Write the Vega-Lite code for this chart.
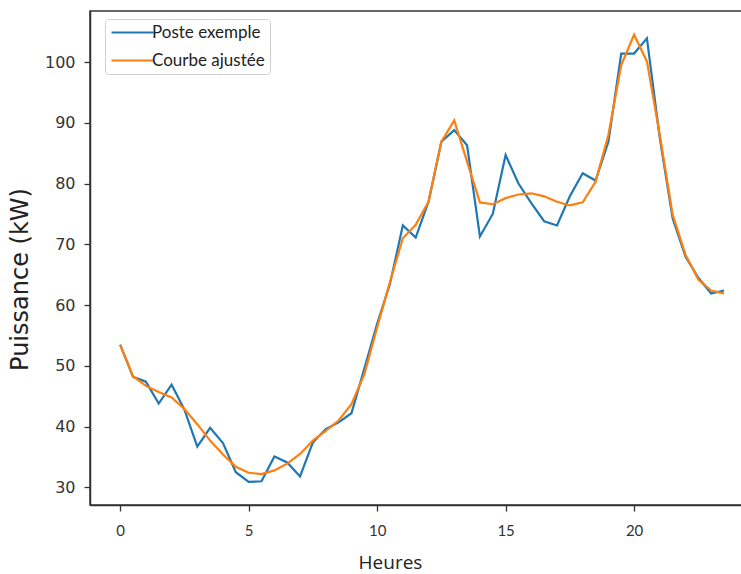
{
  "$schema": "https://vega.github.io/schema/vega-lite/v6.json",
  "width": 652,
  "height": 494,
  "autosize": {"type": "none"},
  "padding": {"left": 90, "top": 11, "right": 0, "bottom": 69},
  "background": "white",
  "config": {
    "view": {"stroke": "#333", "strokeWidth": 1.5},
    "axis": {"grid": false, "domainColor": "#333", "domainWidth": 1.5, "tickColor": "#333", "tickWidth": 1.3, "tickSize": 6, "labelColor": "#333", "titleColor": "#222", "titleFontWeight": "normal"}
  },
  "data": {"values": [
    {"h":0,"s":"Poste exemple","v":53.5},{"h":0.5,"s":"Poste exemple","v":48.2},{"h":1,"s":"Poste exemple","v":47.4},{"h":1.5,"s":"Poste exemple","v":43.8},
    {"h":2,"s":"Poste exemple","v":46.9},{"h":2.5,"s":"Poste exemple","v":42.8},{"h":3,"s":"Poste exemple","v":36.7},{"h":3.5,"s":"Poste exemple","v":39.8},
    {"h":4,"s":"Poste exemple","v":37.3},{"h":4.5,"s":"Poste exemple","v":32.5},{"h":5,"s":"Poste exemple","v":30.9},{"h":5.5,"s":"Poste exemple","v":31.0},
    {"h":6,"s":"Poste exemple","v":35.1},{"h":6.5,"s":"Poste exemple","v":34.1},{"h":7,"s":"Poste exemple","v":31.8},{"h":7.5,"s":"Poste exemple","v":37.4},
    {"h":8,"s":"Poste exemple","v":39.6},{"h":8.5,"s":"Poste exemple","v":40.7},{"h":9,"s":"Poste exemple","v":42.2},{"h":9.5,"s":"Poste exemple","v":49.5},
    {"h":10,"s":"Poste exemple","v":56.9},{"h":10.5,"s":"Poste exemple","v":63.5},{"h":11,"s":"Poste exemple","v":73.1},{"h":11.5,"s":"Poste exemple","v":71.1},
    {"h":12,"s":"Poste exemple","v":77.0},{"h":12.5,"s":"Poste exemple","v":86.9},{"h":13,"s":"Poste exemple","v":88.8},{"h":13.5,"s":"Poste exemple","v":86.3},
    {"h":14,"s":"Poste exemple","v":71.3},{"h":14.5,"s":"Poste exemple","v":75.0},{"h":15,"s":"Poste exemple","v":84.7},{"h":15.5,"s":"Poste exemple","v":80.0},
    {"h":16,"s":"Poste exemple","v":76.8},{"h":16.5,"s":"Poste exemple","v":73.8},{"h":17,"s":"Poste exemple","v":73.1},{"h":17.5,"s":"Poste exemple","v":77.9},
    {"h":18,"s":"Poste exemple","v":81.7},{"h":18.5,"s":"Poste exemple","v":80.5},{"h":19,"s":"Poste exemple","v":86.9},{"h":19.5,"s":"Poste exemple","v":101.4},
    {"h":20,"s":"Poste exemple","v":101.4},{"h":20.5,"s":"Poste exemple","v":103.9},{"h":21,"s":"Poste exemple","v":87.5},{"h":21.5,"s":"Poste exemple","v":74.3},
    {"h":22,"s":"Poste exemple","v":68.0},{"h":22.5,"s":"Poste exemple","v":64.5},{"h":23,"s":"Poste exemple","v":61.9},{"h":23.5,"s":"Poste exemple","v":62.4},
    {"h":0,"s":"Courbe ajustée","v":53.4},{"h":0.5,"s":"Courbe ajustée","v":48.3},{"h":1,"s":"Courbe ajustée","v":46.7},{"h":1.5,"s":"Courbe ajustée","v":45.7},
    {"h":2,"s":"Courbe ajustée","v":44.8},{"h":2.5,"s":"Courbe ajustée","v":42.9},{"h":3,"s":"Courbe ajustée","v":40.4},{"h":3.5,"s":"Courbe ajustée","v":37.7},
    {"h":4,"s":"Courbe ajustée","v":35.4},{"h":4.5,"s":"Courbe ajustée","v":33.4},{"h":5,"s":"Courbe ajustée","v":32.4},{"h":5.5,"s":"Courbe ajustée","v":32.2},
    {"h":6,"s":"Courbe ajustée","v":32.8},{"h":6.5,"s":"Courbe ajustée","v":33.9},{"h":7,"s":"Courbe ajustée","v":35.5},{"h":7.5,"s":"Courbe ajustée","v":37.7},
    {"h":8,"s":"Courbe ajustée","v":39.3},{"h":8.5,"s":"Courbe ajustée","v":41.0},{"h":9,"s":"Courbe ajustée","v":43.7},{"h":9.5,"s":"Courbe ajustée","v":48.6},
    {"h":10,"s":"Courbe ajustée","v":56.3},{"h":10.5,"s":"Courbe ajustée","v":63.8},{"h":11,"s":"Courbe ajustée","v":71.0},{"h":11.5,"s":"Courbe ajustée","v":73.2},
    {"h":12,"s":"Courbe ajustée","v":77.0},{"h":12.5,"s":"Courbe ajustée","v":86.9},{"h":13,"s":"Courbe ajustée","v":90.4},{"h":13.5,"s":"Courbe ajustée","v":83.6},
    {"h":14,"s":"Courbe ajustée","v":76.9},{"h":14.5,"s":"Courbe ajustée","v":76.6},{"h":15,"s":"Courbe ajustée","v":77.6},{"h":15.5,"s":"Courbe ajustée","v":78.2},
    {"h":16,"s":"Courbe ajustée","v":78.4},{"h":16.5,"s":"Courbe ajustée","v":77.9},{"h":17,"s":"Courbe ajustée","v":77.0},{"h":17.5,"s":"Courbe ajustée","v":76.4},
    {"h":18,"s":"Courbe ajustée","v":76.9},{"h":18.5,"s":"Courbe ajustée","v":80.3},{"h":19,"s":"Courbe ajustée","v":88.0},{"h":19.5,"s":"Courbe ajustée","v":99.5},
    {"h":20,"s":"Courbe ajustée","v":104.5},{"h":20.5,"s":"Courbe ajustée","v":100.1},{"h":21,"s":"Courbe ajustée","v":88.0},{"h":21.5,"s":"Courbe ajustée","v":74.9},
    {"h":22,"s":"Courbe ajustée","v":68.3},{"h":22.5,"s":"Courbe ajustée","v":64.2},{"h":23,"s":"Courbe ajustée","v":62.4},{"h":23.5,"s":"Courbe ajustée","v":61.9}
  ]},
  "mark": {"type": "line", "strokeWidth": 2.2, "clip": true},
  "encoding": {
    "x": {"field": "h", "type": "quantitative",
      "scale": {"domain": [-1.175, 24.2], "nice": false, "zero": false},
      "axis": {"values": [0, 5, 10, 15, 20], "title": "Heures", "labelFont": "Lato", "labelFontSize": 15, "labelPadding": 12, "titleFont": "Open Sans", "titleFontSize": 19, "titlePadding": 15, "titleX": 300, "titleAlign": "center"}},
    "y": {"field": "v", "type": "quantitative",
      "scale": {"domain": [27.1, 108.4], "nice": false, "zero": false},
      "axis": {"values": [30, 40, 50, 60, 70, 80, 90, 100], "title": "Puissance (kW)", "labelFont": "DejaVu Sans", "labelFontSize": 16, "labelPadding": 9, "titleFont": "DejaVu Sans", "titleFontSize": 24, "titlePadding": 12, "titleY": 268, "titleAlign": "center"}},
    "color": {"field": "s", "type": "nominal",
      "scale": {"domain": ["Poste exemple", "Courbe ajustée"], "range": ["#1f77b4", "#ff7f0e"]},
      "legend": {"title": null, "orient": "none", "legendX": 15, "legendY": 8,
        "symbolType": "M-1,0H5", "symbolSize": 196, "symbolStrokeWidth": 2.2,
        "labelFont": "Lato", "labelFontSize": 17, "labelColor": "#222", "labelOffset": 25,
        "rowPadding": 10, "padding": 5, "strokeColor": "#d0d0d0", "fillColor": "white", "cornerRadius": 3}},
    "order": {"field": "s", "sort": "descending"}
  }
}
